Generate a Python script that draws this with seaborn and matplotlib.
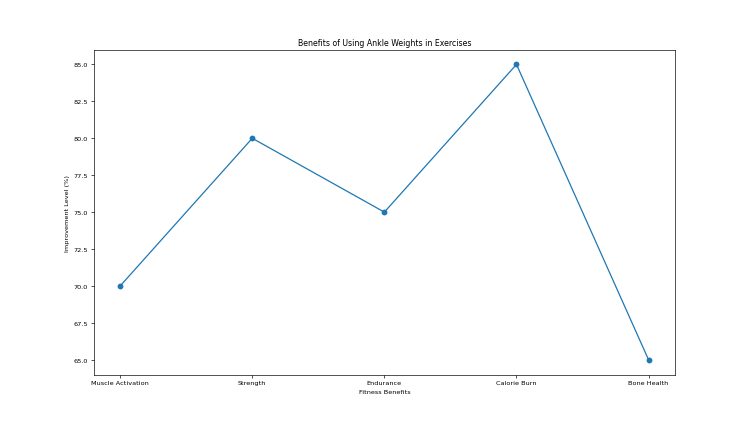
import matplotlib
matplotlib.use("Agg")
import matplotlib.pyplot as plt
import pandas as pd
import seaborn as sns

benefits = ["Muscle Activation", "Strength", "Endurance", "Calorie Burn", "Bone Health"]
improvement = [70, 80, 75, 85, 65]

df = pd.DataFrame({"Fitness Benefits": benefits, "Improvement Level (%)": improvement})

plt.rcParams.update({"font.size": 7.75, "axes.titlesize": 9.3})

fig, ax = plt.subplots(figsize=(12.5, 7.033))
sns.lineplot(data=df, x="Fitness Benefits", y="Improvement Level (%)", marker="o",
             markersize=7, markeredgewidth=0, color="#1f77b4", sort=False, ax=ax)
ax.set_title("Benefits of Using Ankle Weights in Exercises")
fig.savefig("out.png", dpi=60)
